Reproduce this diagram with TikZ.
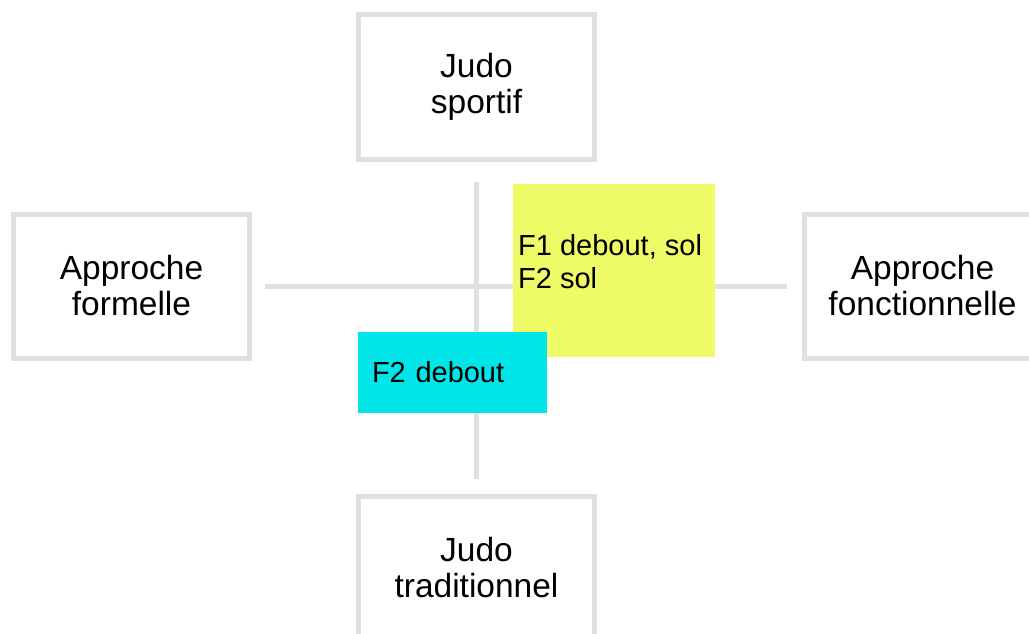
\documentclass[tikz,border=0pt]{standalone}
\usepackage{fontspec}
\setmainfont{Liberation Sans}
\definecolor{grisclair}{RGB}{224,224,224}
\definecolor{jaune}{RGB}{238,251,102}
\definecolor{turquoise}{RGB}{0,230,232}
\begin{document}
\begin{tikzpicture}[x=1pt,y=-1pt,
		cadre/.style={draw=grisclair,line width=5pt,fill=white,minimum width=236pt,minimum height=144pt,align=center,font=\fontsize{33.5}{36}\selectfont},
		axe/.style={draw=grisclair,line width=5pt},
		etiquette/.style={font=\fontsize{29}{33}\selectfont,align=left}]
		\useasboundingbox (0,0) rectangle (1029,634);
		\foreach \Pos/\Nom/\Texte in {(476.5,87)/sportif/{Judo\\sportif},(131.5,286)/formelle/{Approche\\formelle},(922.5,286)/fonctionnelle/{Approche\\fonctionnelle},(476.5,568)/traditionnel/{Judo\\traditionnel}}
		\node[cadre] (\Nom) at \Pos {\Texte};
		\draw[axe,shorten <=13pt,shorten >=15pt] (formelle.east) -- (fonctionnelle.west);
		\draw[axe,shorten <=20pt,shorten >=15pt] (sportif.south) -- (traditionnel.north);
		\node[fill=jaune,minimum width=202pt,minimum height=173pt,anchor=north west,inner sep=0pt] (zone1) at (513,184) {};
		\node[etiquette,anchor=base west,inner sep=0pt] (texte1) at ([shift={(5,104)}]zone1.north west) {F1 debout, sol\\F2 sol};
		\node[etiquette,fill=turquoise,minimum height=81pt,text width=161pt,inner xsep=14pt] (zone2) at (452.5,372.5) {F2 debout};
	\end{tikzpicture}
\end{document}
